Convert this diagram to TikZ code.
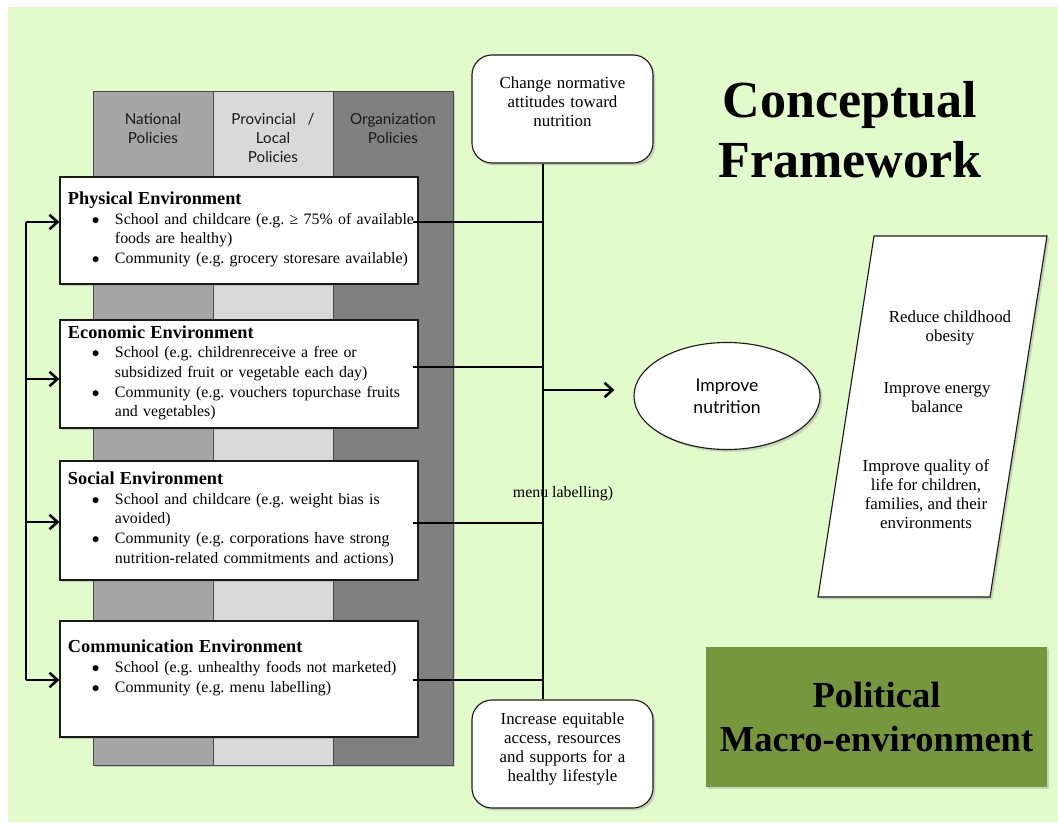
\documentclass[tikz,border=0pt]{standalone}
\usepackage{fontspec}
\setmainfont{Liberation Serif}
\newfontfamily\gillish{Lato}
\usetikzlibrary{arrows.meta,positioning,calc,shapes.geometric,shadows}
\definecolor{fwGreen}{HTML}{E1FBCB}
\definecolor{fwOlive}{HTML}{77973D}
\definecolor{fwNat}{HTML}{A6A6A6}
\definecolor{fwProv}{HTML}{D9D9D9}
\definecolor{fwOrg}{HTML}{808080}
\definecolor{fwInk}{HTML}{1A1A1A}

\newcommand{\envtext}[2]{%
  {\fontsize{13}{15.5}\selectfont\bfseries #1\par}%
  \begin{tabular}[t]{@{\hspace{0.6cm}}p{0.575cm}@{}l@{}}#2\end{tabular}}
\newcommand{\blt}{$\bullet$}

\begin{document}
\frenchspacing
\begin{tikzpicture}[
  x=0.025cm,y=-0.025cm,
  font=\fontsize{11.3}{14}\selectfont\frenchspacing,
  softshadow/.style={drop shadow={opacity=0.3,shadow xshift=0.06cm,shadow yshift=-0.06cm}},
  polcol/.style={draw=fwInk!80,line width=0.6pt,minimum width=3cm,minimum height=16.825cm,inner sep=0pt,softshadow},
  colhead/.style={font=\gillish\fontsize{10.8}{13.5}\selectfont,align=center,text=fwInk},
  envbox/.style={draw=fwInk,line width=0.8pt,fill=white,text width=8.55cm,inner xsep=0.2cm,align=left,softshadow},
  goalbox/.style={draw=fwInk,line width=0.8pt,rounded corners=0.5cm,fill=white,minimum height=2.7cm,text width=4.1cm,inner xsep=0.2125cm,align=center,font=\fontsize{12}{13.5}\selectfont,softshadow},
  outcome/.style={align=center,font=\fontsize{12}{13.5}\selectfont},
  bus/.style={line width=1.8pt,draw=black},
  edge/.style={-{Straight Barb[length=2mm,width=3.6mm]},line width=1.8pt,draw=black}
]
\useasboundingbox (0,0) rectangle (1058,822);
\fill[white] (0,0) rectangle (1058,822);
\fill[fwGreen] (8,7) rectangle (1058,822);

\node[polcol,fill=fwNat] (national) at (153,428.5) {};
\node[polcol,fill=fwProv] (provincial) at (273,428.5) {};
\node[polcol,fill=fwOrg] (organization) at (393,428.5) {};
\node[colhead,below=0.42cm of national.north] (nathead) {National\\Policies};
\node[colhead,below=0.42cm of provincial.north] (provhead) {Provincial\ \ \ /\\Local\\Policies};
\node[colhead,below=0.42cm of organization.north] (orghead) {Organization\\Policies};

\node[envbox,minimum height=2.675cm] (physical) at (239,230.5) {\envtext{Physical Environment}{%
  \blt & School and childcare (e.g. ≥ 75\% of available\\
  & foods are healthy)\\
  \blt & Community (e.g. grocery storesare available)}};
\node[envbox,minimum height=2.7cm] (economic) at (239,374) {\envtext{Economic Environment}{%
  \blt & School (e.g. childrenreceive a free or\\
  & subsidized fruit or vegetable each day)\\
  \blt & Community (e.g. vouchers topurchase fruits\\
  & and vegetables)}};
\node[envbox,minimum height=2.975cm] (social) at (239,520.5) {\envtext{Social Environment}{%
  \blt & School and childcare (e.g. weight bias is\\
  & avoided)\\
  \blt & Community (e.g. corporations have strong\\
  & nutrition-related commitments and actions)}};
\node[envbox,minimum height=2.9cm] (communication) at (239,679) {\envtext{Communication Environment}{%
  \blt & School (e.g. unhealthy foods not marketed)\\
  \blt & Community (e.g. menu labelling)\\
  & }};

\node[goalbox] (attitudes) at (562.5,109) {Change normative\\attitudes toward\\nutrition\rule[-0.35cm]{0pt}{0pt}};
\node[goalbox] (access) at (562.5,754) {Increase equitable\\access, resources\\and supports for a\\healthy lifestyle\rule[-0.35cm]{0pt}{0pt}};

\node[ellipse,draw=fwInk,line width=0.8pt,fill=white,minimum width=4.65cm,minimum height=2.675cm,align=center,
  font=\gillish\fontsize{12.5}{15.6}\selectfont,softshadow] (nutrition) at (727,396) {Improve\\nutrition};

\draw[fwInk,line width=0.8pt,fill=white,softshadow] (874,236) -- (1047,236) -- (990,597) -- (818,597) -- cycle;
\node[outcome] (obesity) at (950,328) {Reduce childhood\\obesity};
\node[outcome] (energy) at (937,398) {Improve energy\\balance};
\node[outcome] (quality) at (926,494) {Improve quality of\\life for children,\\families, and their\\environments};

\node[align=center,font=\bfseries\fontsize{37}{42.7}\selectfont] (title) at (850,130) {Conceptual\\Framework};
\node[fill=fwOlive,minimum width=8.525cm,minimum height=3.5cm,align=center,
  font=\bfseries\fontsize{26}{31.3}\selectfont,softshadow] (political) at (876.5,717) {Political\\Macro-environment};

\node (stray) at (563,494) {menu labelling)};

\coordinate (busA) at (26,222);
\coordinate (busB) at (26,379);
\coordinate (busC) at (26,522);
\coordinate (busD) at (26,680);
\coordinate (hubA) at (543,222);
\coordinate (hubB) at (543,367);
\coordinate (hubC) at (543,523);
\coordinate (hubD) at (543,680);
\coordinate (hubM) at (543,390);

\draw[bus] (busA) -- (busD);
\draw[edge] (busA) -- (busA -| physical.west);
\draw[edge] (busB) -- (busB -| economic.west);
\draw[edge] (busC) -- (busC -| social.west);
\draw[edge] (busD) -- (busD -| communication.west);

\draw[bus] (hubA |- attitudes.south) -- (hubA |- access.north);
\draw[bus] ([xshift=-0.15cm]physical.east |- hubA) -- (hubA);
\draw[bus] ([xshift=-0.15cm]economic.east |- hubB) -- (hubB);
\draw[bus] ([xshift=-0.15cm]social.east |- hubC) -- (hubC);
\draw[bus] ([xshift=-0.15cm]communication.east |- hubD) -- (hubD);
\draw[edge] (hubM) -- ([xshift=-0.475cm]nutrition.west |- hubM);
\end{tikzpicture}
\end{document}
